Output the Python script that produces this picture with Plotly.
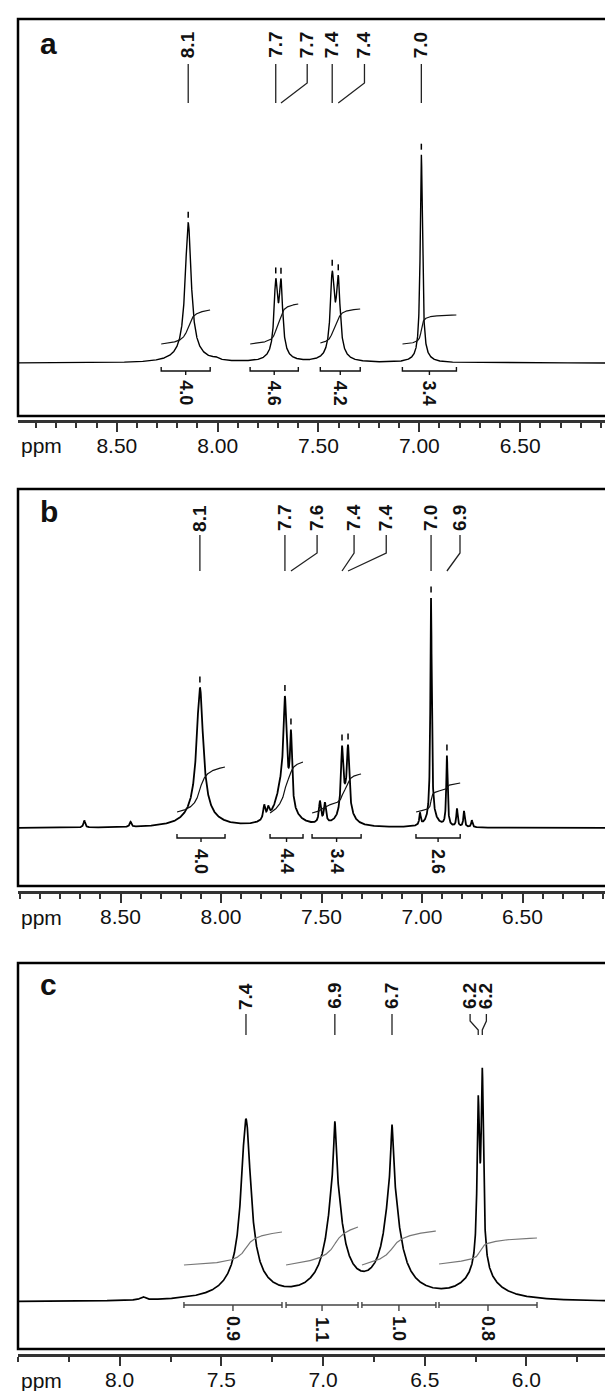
import numpy as np
import plotly.graph_objects as go

W, H = 613, 1391
FONT = "Liberation Sans, Arial, sans-serif"

# ---------------- data ----------------
# Panel a
a_peak_ppm    = [8.146, 7.712, 7.686, 7.432, 7.402, 6.990]
a_peak_height = [132, 66, 66, 74, 70, 203]
a_peak_width  = [0.035, 0.020, 0.020, 0.022, 0.022, 0.013]
a_peak_labels = ["8.1", "7.7", "7.7", "7.4", "7.4", "7.0"]
a_base_ppm    = [8.14, 7.70, 7.42, 6.99, 8.01]
a_base_height = [8, 10, 10, 5, 2]
a_base_width  = [0.15, 0.08, 0.08, 0.08, 0.03]
a_int_from    = [8.280, 7.839, 7.491, 7.084]
a_int_to      = [8.037, 7.600, 7.293, 6.816]
a_int_values  = ["4.0", "4.6", "4.2", "3.4"]
a_int_start   = [19, 19, 20, 19]
a_int_end     = [53, 59, 54, 48]
a_ticks       = [8.5, 8.0, 7.5, 7.0, 6.5]
a_ticktext    = ["8.50", "8.00", "7.50", "7.00", "6.50"]

# Panel b
b_peak_ppm    = [8.105, 7.682, 7.652, 7.398, 7.368, 6.955, 6.876]
b_peak_height = [125, 85, 68, 60, 58, 220, 70]
b_peak_width  = [0.038, 0.016, 0.012, 0.013, 0.013, 0.008, 0.008]
b_peak_labels = ["8.1", "7.7", "7.6", "7.4", "7.4", "7.0", "6.9"]
b_base_ppm    = [8.11, 7.69, 7.785, 7.765, 7.38, 7.508, 7.483,
                 7.01, 6.826, 6.791, 6.752, 6.95, 8.68, 8.45]
b_base_height = [15, 45, 14, 9, 25, 22, 20, 12, 18, 16, 7, 10, 7, 5]
b_base_width  = [0.15, 0.08, 0.012, 0.012, 0.06, 0.012, 0.012,
                 0.008, 0.008, 0.008, 0.008, 0.06, 0.01, 0.01]
b_int_from    = [8.219, 7.756, 7.547, 7.030]
b_int_to      = [7.980, 7.592, 7.303, 6.810]
b_int_values  = ["4.0", "4.4", "3.4", "2.6"]
b_int_start   = [16, 15, 15, 16]
b_int_end     = [61, 66, 54, 45]
b_ticks       = [8.5, 8.0, 7.5, 7.0, 6.5]
b_ticktext    = ["8.50", "8.00", "7.50", "7.00", "6.50"]

# Panel c
c_peak_ppm    = [7.379, 6.942, 6.661, 6.237, 6.217]
c_peak_height = [160, 52, 52, 150, 180]
c_peak_width  = [0.056, 0.012, 0.012, 0.013, 0.013]
c_peak_labels = ["7.4", "6.9", "6.7", "6.2", "6.2"]
c_base_ppm    = [6.942, 6.661, 6.225, 7.38, 6.94, 6.66, 6.23, 7.886]
c_base_height = [102, 99, 20, 20, 20, 20, 18, 3]
c_base_width  = [0.075, 0.075, 0.08, 0.22, 0.22, 0.22, 0.22, 0.03]
c_int_from    = [7.684, 7.182, 6.809, 6.430]
c_int_to      = [7.202, 6.828, 6.445, 5.948]
c_int_values  = ["0.9", "1.1", "1.0", "0.8"]
c_int_start   = [37, 37, 37, 38]
c_int_end     = [70, 75, 71, 64]
c_ticks       = [8.0, 7.5, 7.0, 6.5, 6.0]
c_ticktext    = ["8.0", "7.5", "7.0", "6.5", "6.0"]

# ---------------- layout settings (pixels) ----------------
panels = [
    dict(name="a", peaks=(a_peak_ppm, a_peak_height, a_peak_width), labels=a_peak_labels,
         base=(a_base_ppm, a_base_height, a_base_width),
         ints=(a_int_from, a_int_to, a_int_values, a_int_start, a_int_end),
         ticks=(a_ticks, a_ticktext), minor=0.1, xr=(8.99, 6.0),
         box_top=11, box_bot=408, base_px=355, axis_px=413, letter=35,
         lab_px=37, conn=(56, 75, 95, 95), br_px=363, br_lbl=385,
         shifts=[0, 0, -0.13, 0, -0.13, 0], style="ab", lw=1.4, dashes=True,
         intcolor="#111"),
    dict(name="b", peaks=(b_peak_ppm, b_peak_height, b_peak_width), labels=b_peak_labels,
         base=(b_base_ppm, b_base_height, b_base_width),
         ints=(b_int_from, b_int_to, b_int_values, b_int_start, b_int_end),
         ticks=(b_ticks, b_ticktext), minor=0.1, xr=(9.01, 6.01),
         box_top=481, box_bot=878, base_px=820, axis_px=884, letter=503,
         lab_px=510, conn=(527, 545, 563, 563), br_px=830, br_lbl=853,
         shifts=[0, 0, -0.13, -0.06, -0.19, 0, -0.065], style="ab", lw=1.8, dashes=True,
         intcolor="#111"),
    dict(name="c", peaks=(c_peak_ppm, c_peak_height, c_peak_width), labels=c_peak_labels,
         base=(c_base_ppm, c_base_height, c_base_width),
         ints=(c_int_from, c_int_to, c_int_values, c_int_start, c_int_end),
         ticks=(c_ticks, c_ticktext), minor=0.25, xr=(8.5, 5.535),
         box_top=955, box_bot=1341, base_px=1294, axis_px=1347, letter=976,
         lab_px=988, conn=(1006, 1013, 1022, 1027), br_px=1297, br_lbl=1321,
         shifts=[0, 0, 0, 0.04, -0.02], style="c", lw=1.7, dashes=False,
         intcolor="#777"),
]

PPM_GAP = 25   # axis line -> centre of the "ppm" word (px)


def lorentz(x, centers, heights, widths):
    y = np.zeros_like(x, dtype=float)
    for c, h, w in zip(centers, heights, widths):
        y += h / (1.0 + ((x - c) / (w / 2.0)) ** 2)
    return y


fig = go.Figure()
layout = dict(width=W, height=H, margin=dict(l=0, r=0, t=0, b=0),
              paper_bgcolor="white", plot_bgcolor="rgba(0,0,0,0)",
              showlegend=False, shapes=[], annotations=[])

for i, p in enumerate(panels):
    n = "" if i == 0 else str(i + 1)
    xa, ya = "x" + n, "y" + n
    base = p["base_px"]

    def iy(py, base=base):
        return base - py

    x = np.linspace(p["xr"][0], p["xr"][1], 6000)

    def spec(xx, p=p):
        return lorentz(xx, *p["peaks"]) + lorentz(xx, *p["base"])

    y = spec(x)
    fig.add_trace(go.Scatter(x=x, y=y, mode="lines", xaxis=xa, yaxis=ya,
                             line=dict(color="black", width=p["lw"]), hoverinfo="skip"))

    # integrals and brackets
    ifrom, ito, ivals, istart, iend = p["ints"]
    for hi, lo, val, s, e in zip(ifrom, ito, ivals, istart, iend):
        m = (x <= hi) & (x >= lo)
        xs, ys = x[m], y[m]
        cum = np.cumsum(ys)
        cum = (cum - cum[0]) / (cum[-1] - cum[0])
        fig.add_trace(go.Scatter(x=xs, y=s + cum * (e - s), mode="lines", xaxis=xa, yaxis=ya,
                                 line=dict(color=p["intcolor"], width=1.2), hoverinfo="skip"))
        yb = iy(p["br_px"])
        mid = (hi + lo) / 2
        if p["style"] == "ab":
            bx = [hi, hi, lo, lo, None, mid, mid]
            by = [yb + 4, yb, yb, yb + 4, None, yb, yb - 4]
            col = "#111"
        else:
            bx = [hi, hi, None, hi, lo, None, lo, lo, None, mid, mid]
            by = [yb + 3, yb - 3, None, yb, yb, None, yb + 3, yb - 3, None, yb, yb - 6]
            col = "#444"
        fig.add_trace(go.Scatter(x=bx, y=by, mode="lines", xaxis=xa, yaxis=ya,
                                 line=dict(color=col, width=1.4), hoverinfo="skip"))
        layout["annotations"].append(dict(
            x=mid, y=iy(p["br_lbl"]), xref=xa, yref=ya, text="<b>%s</b>" % val,
            showarrow=False, textangle=90, font=dict(family=FONT, size=18, color="#111")))

    # peak labels and connectors
    c_top, c_bend, c_b2, c_bot = p["conn"]
    for ppm, lab, sh in zip(p["peaks"][0], p["labels"], p["shifts"]):
        lx = ppm + sh
        if sh == 0:
            cx = [lx, lx]
            cy = [iy(c_top), iy(c_bot)]
        else:
            cx = [lx, lx, ppm, ppm]
            cy = [iy(c_top), iy(c_bend), iy(c_b2), iy(c_bot)]
        fig.add_trace(go.Scatter(x=cx, y=cy, mode="lines", xaxis=xa, yaxis=ya,
                                 line=dict(color="#222", width=1.3), hoverinfo="skip"))
        layout["annotations"].append(dict(
            x=lx, y=iy(p["lab_px"]), xref=xa, yref=ya, text="<b>%s</b>" % lab, showarrow=False,
            textangle=-90, font=dict(family=FONT, size=19, color="#111")))
        if p["dashes"]:
            top = float(spec(np.array([ppm]))[0])
            fig.add_trace(go.Scatter(x=[ppm, ppm], y=[top + 5, top + 11], mode="lines",
                                     xaxis=xa, yaxis=ya, line=dict(color="black", width=1.5),
                                     hoverinfo="skip"))

    tv, tt = p["ticks"]
    layout["xaxis" + n] = dict(
        domain=[10 / W, 1], range=list(p["xr"]), anchor="free",
        position=1 - p["axis_px"] / H, showline=True, linecolor="#333", linewidth=2.5,
        ticks="outside", ticklen=9, tickwidth=1.6, tickcolor="#333",
        tickmode="array", tickvals=tv, ticktext=tt, ticklabelstandoff=-4,
        tickfont=dict(family=FONT, size=21, color="#111"),
        showgrid=False, zeroline=False,
        minor=dict(tickmode="linear", tick0=6.0, dtick=p["minor"], ticks="outside",
                   ticklen=5, tickwidth=1.5, tickcolor="#333", showgrid=False))
    layout["yaxis" + n] = dict(
        domain=[1 - p["box_bot"] / H, 1 - p["box_top"] / H],
        range=[base - p["box_bot"], base - p["box_top"]],
        visible=False, anchor=xa)

    layout["shapes"].append(dict(
        type="rect", xref="paper", yref="paper", x0=10 / W, x1=1.02,
        y0=1 - p["box_bot"] / H, y1=1 - p["box_top"] / H,
        line=dict(color="black", width=2.5)))
    layout["annotations"].append(dict(
        x=30 / W, y=1 - p["letter"] / H, xref="paper", yref="paper",
        text="<b>%s</b>" % p["name"], showarrow=False, xanchor="left", yanchor="middle",
        font=dict(family=FONT, size=30, color="#111")))
    layout["annotations"].append(dict(
        x=11 / W, y=1 - (p["axis_px"] + PPM_GAP) / H, xref="paper", yref="paper",
        text="ppm", showarrow=False, xanchor="left", yanchor="middle",
        font=dict(family=FONT, size=21, color="#111")))

fig.update_layout(**layout)
fig.write_html("out.html")
